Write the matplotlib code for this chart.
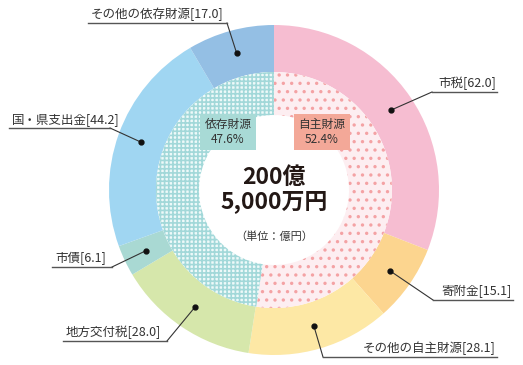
import numpy as np
import matplotlib
matplotlib.use("Agg")
import matplotlib.pyplot as plt

# ─────────────────────────────────────────────────────────────────────────────
# DATA (億円)
# ─────────────────────────────────────────────────────────────────────────────

CATEGORIES = ["市税", "寄附金", "その他の自主財源", "地方交付税",
              "市債", "国・県支出金", "その他の依存財源"]
VALUES     = [62.0, 15.1, 28.1, 28.0, 6.1, 44.2, 17.0]
COLORS     = ["#f6bdd1", "#fcd58f", "#fde8a5", "#d6e7ab",
              "#a9d9d3", "#a0d6f2", "#94bfe4"]

GROUPS       = ["自主財源", "依存財源"]
GROUP_SHARES = [52.4, 47.6]

TOTAL_LINES = ["200億", "5,000万円"]
UNIT_TEXT   = "（単位：億円）"

# label layout in picture pixels: (underline x0, underline x1, underline y, side)
LABEL_POS = [
    (432, 497, 92, "right"),
    (433, 513, 300, "right"),
    (323, 497, 357, "right"),
    (63, 167, 341, "left"),
    (52, 112, 267, "left"),
    (9, 110, 128, "left"),
    (88, 227, 23, "left"),
]

W, H = 523, 365
CX, CY = 274, 190
R_OUT, R_MID, R_IN = 165, 118, 75

plt.rcParams["font.family"] = ["Noto Sans CJK JP", "DejaVu Sans"]
plt.rcParams["hatch.linewidth"] = 1.2


def px(x, y):
    # picture pixel -> data coords (center of chart at origin)
    return x - CX, CY - y


fig = plt.figure(figsize=(W / 100, H / 100), dpi=100)
ax = fig.add_axes([0, 0, 1, 1])
ax.axis("off")

# outer ring
wedges, _ = ax.pie(VALUES, colors=COLORS, radius=R_OUT, startangle=90,
                   counterclock=False,
                   wedgeprops=dict(width=R_OUT - R_MID, linewidth=0))

# inner ring (patterned)
inner, _ = ax.pie(GROUP_SHARES, radius=R_MID, startangle=90, counterclock=False,
                  wedgeprops=dict(width=R_MID - R_IN, linewidth=0))
inner[0].set_facecolor("#fdeef1")
inner[0].set_edgecolor("#f4a2a4")
inner[0].set_hatch("..")
inner[1].set_facecolor("#eef9f9")
inner[1].set_edgecolor("#a2d8d9")
inner[1].set_hatch("++++")
for w in inner:
    w.set_linewidth(0)

ax.set_xlim(-CX, W - CX)
ax.set_ylim(CY - H, CY)
ax.set_aspect("equal")

# callouts
r_dot = (R_OUT + R_MID) / 2
for w, name, val, (x0, x1, uy, side) in zip(wedges, CATEGORIES, VALUES, LABEL_POS):
    ang = np.deg2rad((w.theta1 + w.theta2) / 2)
    dx, dy = r_dot * np.cos(ang), r_dot * np.sin(ang)
    sx0, sy = px(x0, uy)
    sx1, _ = px(x1, uy)
    corner = sx0 if side == "right" else sx1
    ax.plot([dx, corner], [dy, sy], color="#333333", lw=0.8, zorder=5)
    ax.plot([sx0, sx1], [sy, sy], color="#555555", lw=1.0, zorder=5)
    ax.plot(dx, dy, "o", color="#111111", ms=3.5, zorder=6)
    label = f"{name}[{val:.1f}]"
    if side == "right":
        ax.text(sx1 - 1, sy + 2, label, ha="right", va="bottom",
                fontsize=9, color="#333333")
    else:
        ax.text(sx0 + 3, sy + 2, label, ha="left", va="bottom",
                fontsize=9, color="#333333")

# group boxes
box_specs = [("自主財源", GROUP_SHARES[0], 322, "#f3a898"),
             ("依存財源", GROUP_SHARES[1], 228, "#a8dad6")]
for name, share, bx, col in box_specs:
    x, y = px(bx, 132)
    ax.text(x, y, f"{name}\n{share:.1f}%", ha="center", va="center",
            fontsize=8.5, color="#333333", linespacing=1.15,
            bbox=dict(boxstyle="square,pad=0.4", fc=col, ec="none"))

# center text
x, y = px(CX, 177)
ax.text(x, y, TOTAL_LINES[0], ha="center", va="center", fontsize=16.5,
        fontweight="bold", color="#231815")
x, y = px(CX, 202)
ax.text(x, y, TOTAL_LINES[1], ha="center", va="center", fontsize=16.5,
        fontweight="bold", color="#231815")
x, y = px(CX, 237)
ax.text(x, y, UNIT_TEXT, ha="center", va="center", fontsize=8,
        color="#333333")

fig.savefig("out.png", dpi=100)
